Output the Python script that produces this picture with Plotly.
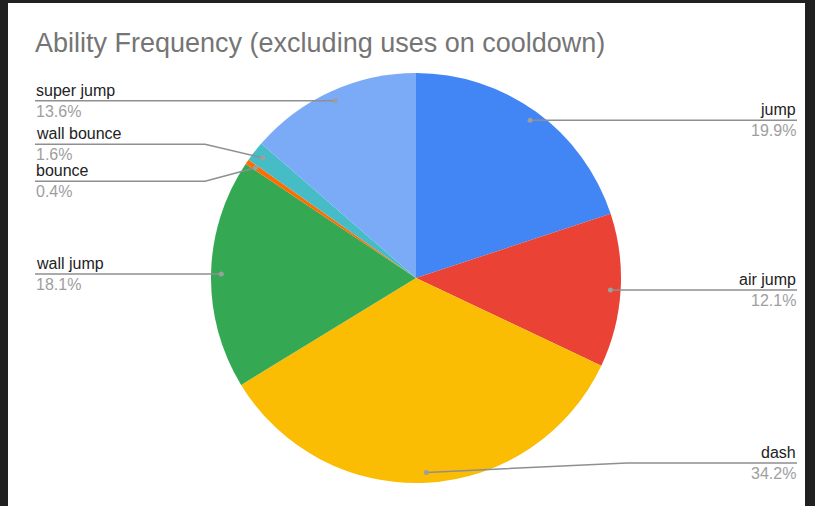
import math
import plotly.graph_objects as go

# Ability usage share (percent), in slice order clockwise from 12 o'clock
abilities = ["jump", "air jump", "dash", "wall jump", "bounce", "wall bounce", "super jump"]
shares = [19.9, 12.1, 34.2, 18.1, 0.4, 1.6, 13.6]
slice_colors = ["#4285F4", "#EA4335", "#FBBC04", "#34A853", "#FF6D01", "#46BDC6", "#7BAAF7"]

W, H = 815, 506
CX, CY, R = 416, 278, 205          # pie centre and radius in pixels
DOT_R = 0.95                        # leader dot radius as a fraction of R
LEFT_X, RIGHT_X = 35, 797           # label text edges
ELBOW = 170                         # length of the horizontal part of a leader
MIN_GAP = 37                        # minimum vertical spacing of labels
LABEL_MAX_Y = 463
FONT = "Arial, Liberation Sans, sans-serif"


def px(x):
    return x / W


def py(y):
    return 1 - y / H


fig = go.Figure()

fig.add_trace(go.Pie(
    labels=abilities,
    values=shares,
    marker=dict(colors=slice_colors, line=dict(width=0)),
    sort=False,
    direction="clockwise",
    rotation=0,
    textinfo="none",
    hoverinfo="label+percent",
    showlegend=False,
    domain=dict(x=[px(CX - R), px(CX + R)], y=[py(CY + R), py(CY - R)]),
))

# Leader anchor points at each slice's mid-angle
total = sum(shares)
items = []
cum = 0.0
for name, v in zip(abilities, shares):
    mid = (cum + v / 2) / total * 2 * math.pi
    cum += v
    dx = CX + DOT_R * R * math.sin(mid)
    dy = CY - DOT_R * R * math.cos(mid)
    items.append(dict(name=name, value=v, dx=dx, dy=dy,
                      side="right" if mid < math.pi else "left", ly=dy))

# Spread labels that would overlap, keep them inside the chart
for side in ("left", "right"):
    group = sorted([it for it in items if it["side"] == side], key=lambda it: it["dy"])
    for _ in range(50):
        for a, b in zip(group, group[1:]):
            gap = b["ly"] - a["ly"]
            if gap < MIN_GAP:
                push = (MIN_GAP - gap) / 2
                a["ly"] -= push
                b["ly"] += push
        for it in group:
            it["ly"] = min(it["ly"], LABEL_MAX_Y)

shapes = [
    dict(type="rect", xref="paper", yref="paper", x0=0, x1=1, y0=0, y1=1,
         fillcolor="#202020", line=dict(width=0), layer="below"),
    dict(type="rect", xref="paper", yref="paper", x0=px(8), x1=px(805), y0=0, y1=py(3),
         fillcolor="#ffffff", line=dict(width=0), layer="below"),
]
annotations = [
    dict(text="Ability Frequency (excluding uses on cooldown)", xref="paper", yref="paper",
         x=px(33), y=py(43), xanchor="left", yanchor="middle", showarrow=False,
         font=dict(family=FONT, size=27, color="#757575")),
]

for it in items:
    if it["side"] == "right":
        edge, elbow_x, anchor = RIGHT_X, RIGHT_X - ELBOW, "right"
    else:
        edge, elbow_x, anchor = LEFT_X, LEFT_X + ELBOW, "left"
    path = "M {},{} L {},{} L {},{}".format(
        px(it["dx"]), py(it["dy"]), px(elbow_x), py(it["ly"]), px(edge), py(it["ly"]))
    shapes.append(dict(type="path", xref="paper", yref="paper", path=path,
                       line=dict(color="#8f8f8f", width=1.5)))
    shapes.append(dict(type="circle", xref="paper", yref="paper",
                       x0=px(it["dx"] - 2.5), x1=px(it["dx"] + 2.5),
                       y0=py(it["dy"] + 2.5), y1=py(it["dy"] - 2.5),
                       fillcolor="#9e9e9e", line=dict(width=0)))
    annotations.append(dict(text=it["name"], xref="paper", yref="paper",
                            x=px(edge), y=py(it["ly"]), xanchor=anchor, yanchor="bottom",
                            showarrow=False, borderpad=0, yshift=1,
                            font=dict(family=FONT, size=16, color="#222222")))
    annotations.append(dict(text="{:.1f}%".format(it["value"]), xref="paper", yref="paper",
                            x=px(edge), y=py(it["ly"]), xanchor=anchor, yanchor="top",
                            showarrow=False, borderpad=0, yshift=-1,
                            font=dict(family=FONT, size=16, color="#9e9e9e")))

fig.update_layout(
    width=W, height=H,
    margin=dict(l=0, r=0, t=0, b=0),
    paper_bgcolor="#ffffff",
    plot_bgcolor="#ffffff",
    shapes=shapes,
    annotations=annotations,
)

fig.write_html("out.html")
